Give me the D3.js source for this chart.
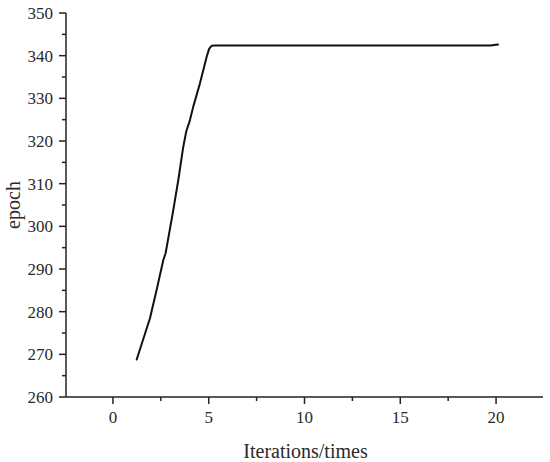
<!DOCTYPE html>
<html>
<head>
<meta charset="utf-8">
<script src="https://cdn.jsdelivr.net/npm/d3@7"></script>
<style>
  html, body { margin: 0; padding: 0; background: #fff; }
  svg { display: block; }
</style>
</head>
<body>
<svg id="chart" width="550" height="462"></svg>
<script>
// Data
const iterX = [1.24, 1.93, 2.28, 2.63, 2.75, 3.15, 3.41, 3.67, 3.83, 4.02, 4.19, 4.54, 4.89, 5.02, 5.15, 5.3, 10, 15, 19.7, 20.1];
const epochY = [268.8, 278.4, 285.1, 292.1, 293.7, 303.8, 310.8, 318.6, 322.3, 324.9, 328.0, 333.5, 339.7, 341.6, 342.3, 342.4, 342.4, 342.4, 342.4, 342.6];
const xTicks = [0, 5, 10, 15, 20];
const yTicks = [260, 270, 280, 290, 300, 310, 320, 330, 340, 350];
const xTitle = "Iterations/times";
const yTitle = "epoch";

const FONT = "'Liberation Serif', 'Times New Roman', 'DejaVu Serif', serif";
const svg = d3.select("#chart");
const mLeft = 66, mRight = 543, mTop = 13, mBottom = 397;

const x = d3.scaleLinear().domain([-2.45, 22.45]).range([mLeft, mRight]);
const y = d3.scaleLinear().domain([260, 350]).range([mBottom, mTop]);

const xMinor = [-2.5, 2.5, 7.5, 12.5, 17.5, 22.5].filter(v => v >= -2.45 && v <= 22.46);
const yMinor = [265, 275, 285, 295, 305, 315, 325, 335, 345];

const axisColor = "#222";
const textColor = "#2a2a2a";

// bottom axis
const gx = svg.append("g").attr("transform", `translate(0,${mBottom})`);
gx.append("line").attr("x1", mLeft).attr("x2", mRight).attr("stroke", axisColor).attr("stroke-width", 1.5);
gx.selectAll(".maj").data(xTicks).enter().append("line")
  .attr("x1", d => x(d)).attr("x2", d => x(d)).attr("y1", 0).attr("y2", 7)
  .attr("stroke", axisColor).attr("stroke-width", 1.5);
gx.selectAll(".min").data(xMinor).enter().append("line")
  .attr("x1", d => x(d)).attr("x2", d => x(d)).attr("y1", 0).attr("y2", 4)
  .attr("stroke", axisColor).attr("stroke-width", 1.5);
gx.selectAll("text").data(xTicks).enter().append("text")
  .attr("x", d => x(d)).attr("y", 26).attr("text-anchor", "middle")
  .attr("font-family", FONT).attr("fill", textColor)
  .attr("font-size", 17).text(d => d);

// left axis
const gy = svg.append("g").attr("transform", `translate(${mLeft},0)`);
gy.append("line").attr("y1", mTop).attr("y2", mBottom).attr("stroke", axisColor).attr("stroke-width", 1.5);
gy.selectAll(".maj").data(yTicks).enter().append("line")
  .attr("y1", d => y(d)).attr("y2", d => y(d)).attr("x1", 0).attr("x2", -7)
  .attr("stroke", axisColor).attr("stroke-width", 1.5);
gy.selectAll(".min").data(yMinor).enter().append("line")
  .attr("y1", d => y(d)).attr("y2", d => y(d)).attr("x1", 0).attr("x2", -4)
  .attr("stroke", axisColor).attr("stroke-width", 1.5);
gy.selectAll("text").data(yTicks).enter().append("text")
  .attr("x", -13).attr("y", d => y(d)).attr("dy", "0.35em").attr("text-anchor", "end")
  .attr("font-family", FONT).attr("fill", textColor)
  .attr("font-size", 17).text(d => d);

// titles
svg.append("text").attr("x", (mLeft + mRight) / 2 + 1).attr("y", 458)
  .attr("text-anchor", "middle").attr("font-size", 20)
  .attr("font-family", FONT).attr("fill", textColor).text(xTitle);
svg.append("text").attr("transform", `translate(20,${(mTop + mBottom) / 2}) rotate(-90)`)
  .attr("text-anchor", "middle").attr("font-size", 20)
  .attr("font-family", FONT).attr("fill", textColor).text(yTitle);

// line
const data = iterX.map((v, i) => ({ x: v, y: epochY[i] }));
svg.append("path").datum(data)
  .attr("fill", "none").attr("stroke", "#111").attr("stroke-width", 2)
  .attr("stroke-linejoin", "round").attr("stroke-linecap", "round")
  .attr("d", d3.line().x(d => x(d.x)).y(d => y(d.y)));
</script>
</body>
</html>
